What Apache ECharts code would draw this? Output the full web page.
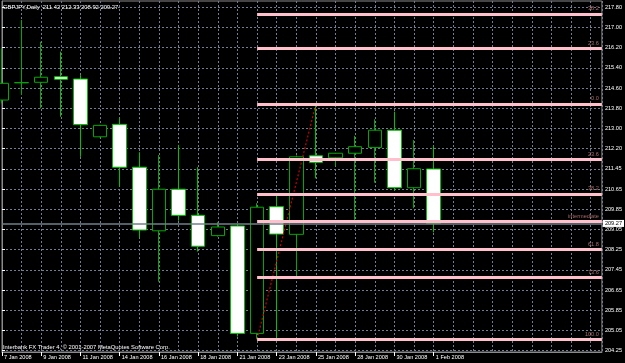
<!DOCTYPE html>
<html>
<head>
<meta charset="utf-8">
<script src="https://cdn.jsdelivr.net/npm/echarts@6/dist/echarts.min.js"></script>
<style>
html, body { margin: 0; padding: 0; background: #000; }
#main { width: 625px; height: 363px; }
</style>
</head>
<body>
<div id="main"></div>
<script>
// daily bars (broker has sunday bars)
const dates = ['7 Jan 2008', '8 Jan 2008', '9 Jan 2008', '10 Jan 2008', '11 Jan 2008', '13 Jan 2008',
  '14 Jan 2008', '15 Jan 2008', '16 Jan 2008', '17 Jan 2008', '18 Jan 2008', '20 Jan 2008',
  '21 Jan 2008', '22 Jan 2008', '23 Jan 2008', '24 Jan 2008', '25 Jan 2008', '27 Jan 2008',
  '28 Jan 2008', '29 Jan 2008', '30 Jan 2008', '31 Jan 2008', '1 Feb 2008']
const opens = [214.14, 214.82, 214.84, 215.06, 214.97, 212.69, 213.18, 211.49, 208.98, 210.62, 209.59, 208.79,
  209.17, 204.93, 209.93, 208.84, 211.94, 211.86, 212.04, 212.27, 212.95, 210.68, 211.42]
const closes = [214.80, 214.83, 215.04, 214.96, 213.17, 213.14, 211.49, 209.01, 210.62, 209.59, 208.37, 209.13,
  204.93, 209.91, 208.85, 211.90, 211.68, 212.04, 212.30, 212.95, 210.68, 211.43, 209.27]
const lows = [214.01, 214.34, 213.81, 213.48, 211.90, 212.67, 210.72, 208.72, 206.97, 209.38, 208.16, 208.75,
  204.81, 204.70, 204.74, 207.11, 211.05, 211.56, 209.41, 210.88, 210.56, 209.87, 208.92]
const highs = [216.18, 217.30, 216.44, 216.05, 215.12, 213.16, 213.42, 212.08, 211.97, 212.37, 211.49, 209.32,
  209.25, 210.07, 210.39, 211.95, 214.00, 212.05, 212.73, 213.38, 213.68, 212.56, 212.33]

// price scale labels (right side)
const priceLabels = ['217.80', '217.00', '216.20', '215.40', '214.60', '213.80', '213.00', '212.20', '211.45',
  '210.65', '209.85', '209.05', '208.25', '207.45', '206.65', '205.85', '205.05', '204.25']

// fibonacci levels
const fibLabels = ['38.2', '23.6', '0.0', '23.6', '38.2', 'intermediate', '61.8', '73.6', '100.0']
const fibLevels = [217.54, 216.18, 213.99, 211.80, 210.44, 209.345, 208.25, 207.15, 204.70]
const fibStart = 13

// trend line 22 Jan low -> 25 Jan high
const trendPoints = [[13, 204.70], [16, 213.99]]
const bidPrice = 209.27

const yTop = parseFloat(priceLabels[0])
const yBottom = parseFloat(priceLabels[priceLabels.length - 1])
const yStep = (yTop - yBottom) / (priceLabels.length - 1)
const tickValues = priceLabels.map((s, i) => yTop - i * yStep)

const xMax = 30.57
const labelBars = []
for (let i = 0; i < dates.length; i += 2) labelBars.push(i)

const rows = dates.map((d, i) => [i, opens[i], closes[i], lows[i], highs[i]])

const font = 'Liberation Sans, Arial, sans-serif'
const gridColor = '#6f7f8f'

const myChart = echarts.init(document.getElementById('main'))

const option = {
  animation: false,
  backgroundColor: '#000',
  title: [
    {
      text: 'GBPJPY,Daily  ' + [opens[22], highs[22], lows[22], closes[22]].map(v => v.toFixed(2)).join(' '),
      left: 3, top: 4, padding: 0,
      textStyle: { color: '#fff', fontSize: 5.8, fontWeight: 'normal', fontFamily: font }
    },
    {
      text: 'Interbank FX Trader 4, © 2001-2007 MetaQuotes Software Corp.',
      left: 3, top: 344, padding: 0,
      textStyle: { color: '#fff', fontSize: 5.8, fontWeight: 'normal', fontFamily: font }
    }
  ],
  grid: {
    left: 2, right: 22, top: 1, bottom: 11,
    show: true, borderColor: '#8a8a8a', borderWidth: 1, backgroundColor: '#000'
  },
  xAxis: [
    {
      type: 'value', min: 0, max: xMax, interval: 1,
      axisLine: { show: true, lineStyle: { color: '#8a8a8a' } },
      axisTick: { show: false },
      axisLabel: { show: false },
      splitLine: { show: true, lineStyle: { color: gridColor, type: [2, 2], width: 1 } }
    },
    {
      type: 'value', min: 0, max: xMax, position: 'bottom',
      axisLine: { show: false },
      axisTick: { show: true, customValues: labelBars, length: 4, lineStyle: { color: '#fff' } },
      axisLabel: {
        customValues: labelBars,
        formatter: v => dates[Math.round(v)] || '',
        color: '#fff', fontSize: 5.6, fontFamily: font, align: 'left', margin: 2,
        padding: [0, 0, 0, 2]
      },
      splitLine: { show: false }
    }
  ],
  yAxis: {
    type: 'value', position: 'right', min: 204.196, max: 218.049,
    axisLine: { show: true, lineStyle: { color: '#8a8a8a' } },
    axisTick: { show: true, customValues: tickValues, length: 3, lineStyle: { color: '#fff' } },
    axisLabel: {
      customValues: tickValues,
      formatter: v => priceLabels[Math.round((yTop - v) / yStep)],
      color: '#fff', fontSize: 5.6, fontFamily: font, margin: 3
    },
    splitLine: { show: true, lineStyle: { color: gridColor, type: [2, 2], width: 1 } }
  },
  series: [
    {
      type: 'candlestick',
      xAxisIndex: 0,
      clip: false,
      barWidth: 14,
      data: rows,
      itemStyle: {
        color: '#000', color0: '#fff',
        borderColor: '#00a800', borderColor0: '#00c000', borderWidth: 1
      },
      z: 2
    },
    {
      type: 'line',
      xAxisIndex: 0,
      data: trendPoints,
      symbol: 'none',
      lineStyle: { color: '#d00000', width: 1.2, type: [2, 2] },
      z: 4,
      markLine: {
        symbol: 'none',
        silent: true,
        data: fibLevels.map((v, k) => [
          {
            coord: [fibStart, v],
            lineStyle: { color: '#ffc0cb', width: 3, type: 'solid' },
            label: {
              show: true, position: 'insideEndTop', formatter: fibLabels[k],
              color: '#a86a6a', fontSize: 5.6, fontFamily: font, distance: [3, 2]
            }
          },
          { coord: [xMax, v] }
        ])
      }
    },
    {
      type: 'line',
      xAxisIndex: 0,
      data: [],
      z: 3,
      markLine: {
        symbol: 'none',
        silent: true,
        data: [{
          yAxis: bidPrice,
          lineStyle: { color: '#70808a', width: 1.5, type: 'solid' },
          label: {
            show: true, position: 'end', formatter: bidPrice.toFixed(2),
            color: '#000', backgroundColor: '#fff', fontSize: 5.6, fontFamily: font,
            padding: [1, 2, 0, 2], distance: 1
          }
        }]
      }
    }
  ]
}
myChart.setOption(option)
</script>
</body>
</html>
